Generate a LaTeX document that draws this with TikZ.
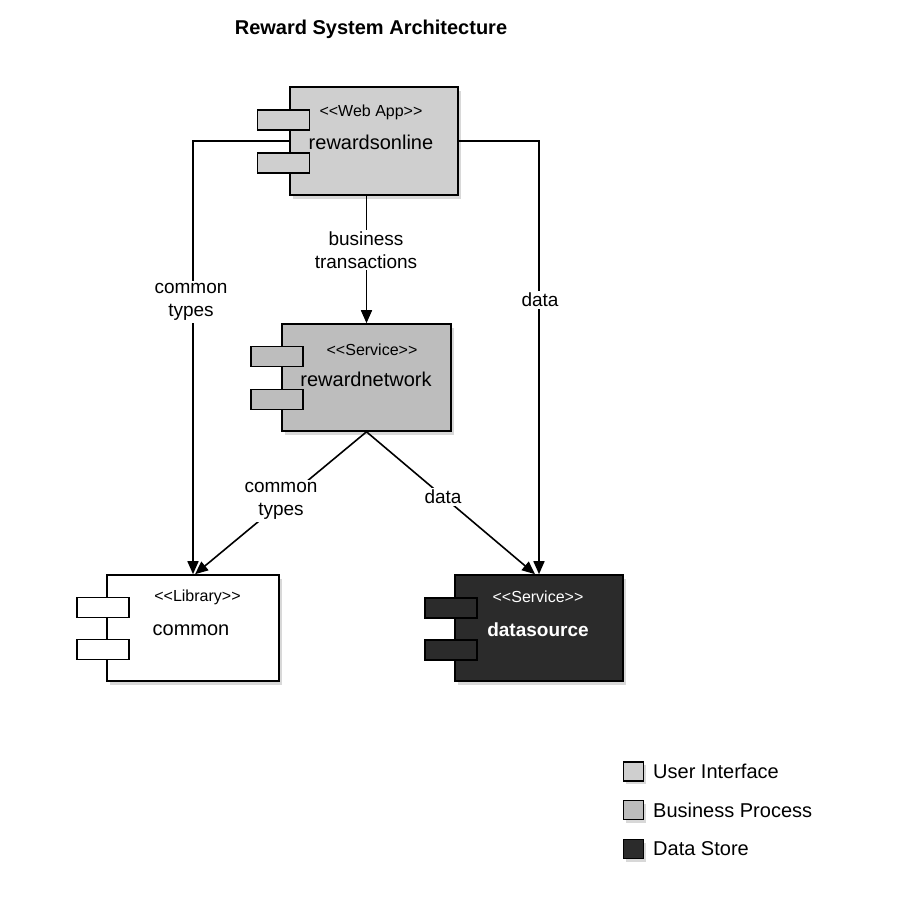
\documentclass[tikz,border=0pt]{standalone}
\usepackage{fontspec}
\setmainfont{Liberation Sans}[Ligatures=TeXOff]
\usetikzlibrary{arrows.meta,shadows}
\definecolor{uigray}{HTML}{CFCFCF}
\definecolor{bpgray}{HTML}{BDBDBD}
\definecolor{dsdark}{HTML}{2B2B2B}
\tikzset{
  compbox/.style={draw=black, line width=1.6pt, inner sep=0pt,
    drop shadow={opacity=0.3, shadow xshift=3pt, shadow yshift=-4pt}},
  portbox/.style={draw=black, line width=1.4pt, inner sep=0pt, minimum width=52pt, minimum height=20pt},
  stereo/.style={font=\fontsize{16}{18}\selectfont, inner sep=0pt},
  cname/.style={font=\fontsize{20}{23}\selectfont, inner sep=0pt},
  conn/.style={line width=1.6pt, -{Triangle[length=13pt,width=11pt]}},
  elabel/.style={fill=white, align=center, font=\fontsize{19}{23}\selectfont, inner sep=2pt},
  legbox/.style={draw=black, line width=1.4pt, minimum width=20pt, minimum height=19pt, inner sep=0pt,
    drop shadow={opacity=0.3, shadow xshift=2pt, shadow yshift=-3pt}},
  legtext/.style={anchor=west, font=\fontsize{20}{22}\selectfont, inner sep=0pt}
}
\begin{document}
\begin{tikzpicture}[x=1pt,y=-1pt]
\useasboundingbox[fill=white] (0,0) rectangle (900,900);
% title
\node[font=\bfseries\fontsize{20}{22}\selectfont, inner sep=0pt] (title) at (371,29) {Reward System Architecture};

% rewardsonline
\node[compbox, fill=uigray, minimum width=168pt, minimum height=108pt] (ro) at (374,141) {};
\node[portbox, fill=uigray] (rop1) at (283.5,120) {};
\node[portbox, fill=uigray] (rop2) at (283.5,163) {};
\node[stereo] (rost) at (371,112) {<<Web App>>};
\node[cname] (ron) at (371,142) {rewardsonline};

% rewardnetwork
\node[compbox, fill=bpgray, minimum width=169pt, minimum height=107pt] (rn) at (366.5,377.5) {};
\node[portbox, fill=bpgray] (rnp1) at (277,356.5) {};
\node[portbox, fill=bpgray] (rnp2) at (277,399.5) {};
\node[stereo] (rnst) at (372,350) {<<Service>>};
\node[cname] (rnn) at (366,379) {rewardnetwork};

% common
\node[compbox, fill=white, minimum width=172pt, minimum height=106pt] (cm) at (193,628) {};
\node[portbox, fill=white] (cmp1) at (103,607.5) {};
\node[portbox, fill=white] (cmp2) at (103,649.5) {};
\node[stereo] (cmst) at (197.5,597) {<<Library>>};
\node[cname] (cmn) at (191,630) {common};

% datasource
\node[compbox, fill=dsdark, minimum width=168pt, minimum height=106pt] (ds) at (539,628) {};
\node[portbox, fill=dsdark] (dsp1) at (451,608) {};
\node[portbox, fill=dsdark] (dsp2) at (451,650) {};
\node[stereo, text=white] (dsst) at (538,597) {<<Service>>};
\node[cname, text=white, font=\bfseries\fontsize{19}{23}\selectfont] (dsn) at (538,630) {datasource};

% connectors
\draw[conn] (ro.west) -| (cm.north);
\draw[conn] (ro.east) -| (ds.north);
\draw[conn] (rn.north |- ro.south) -- (rn.north);
\draw[conn] (rn.south) -- ([xshift=2pt]cm.north);
\draw[conn] (rn.south) -- ([xshift=-4pt]ds.north);

% edge labels
\node[elabel] (lbt) at (366,250) {business\\transactions};
\node[elabel] (lct1) at (191,302) {common\\types};
\node[elabel] (ld1) at (540,300) {data};
\node[elabel] (lct2) at (281,501) {common\\types};
\node[elabel] (ld2) at (443,497) {data};

% legend
\node[legbox, fill=uigray] (lg1) at (633.5,771.5) {};
\node[legbox, fill=bpgray] (lg2) at (633.5,810) {};
\node[legbox, fill=dsdark] (lg3) at (633.5,849) {};
\node[legtext] (lt1) at (653,771) {User Interface};
\node[legtext] (lt2) at (653,810) {Business Process};
\node[legtext] (lt3) at (653,849) {Data Store};
\end{tikzpicture}
\end{document}
